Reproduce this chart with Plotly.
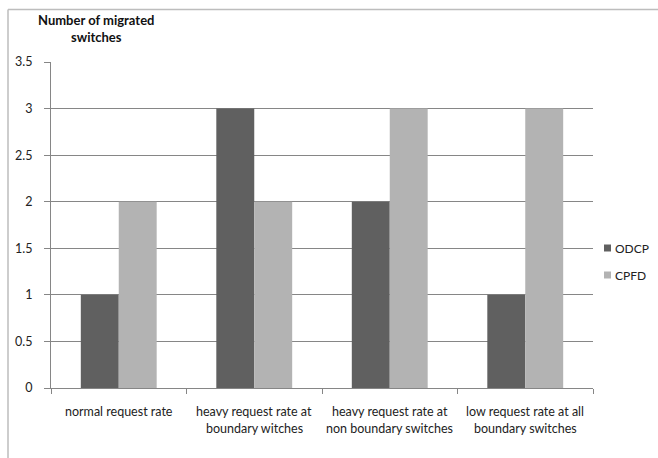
import plotly.graph_objects as go

categories = [
    "normal request rate",
    "heavy request rate at<br>boundary witches",
    "heavy request rate at<br>non boundary switches",
    "low request rate at all<br>boundary switches",
]
odcp = [1, 3, 2, 1]
cpfd = [2, 2, 3, 3]
y_ticks = [0, 0.5, 1, 1.5, 2, 2.5, 3, 3.5]
series_names = ["ODCP", "CPFD"]

W, H = 658, 458
L, R, T, B = 51, 65, 62, 70
pw, ph = W - L - R, H - T - B

dark = "#606060"
light = "#b3b3b3"
axis_col = "#868686"
text_col = "#222222"
font_family = "Lato, Liberation Sans, Arial, sans-serif"


def px_x(x):
    return (x - L) / pw


def px_y(y):
    return 1 - (y - T) / ph


fig = go.Figure()
fig.add_trace(go.Bar(x=categories, y=odcp, name=series_names[0],
                     marker=dict(color=dark, line=dict(width=0))))
fig.add_trace(go.Bar(x=categories, y=cpfd, name=series_names[1],
                     marker=dict(color=light, line=dict(width=0))))

annotations = [
    dict(text="<b>Number of migrated<br>switches</b>", xref="paper", yref="paper",
         x=px_x(96), y=px_y(29), xanchor="center", yanchor="middle",
         showarrow=False, align="center", font=dict(size=13, color="#111111")),
]

# category labels, two lines each, under the axis
for cat in categories:
    lines = cat.split("<br>")
    for i, line in enumerate(lines):
        annotations.append(dict(text=line, x=cat, xref="x", yref="paper",
                                y=px_y(411 + 17.5 * i), xanchor="center", yanchor="middle",
                                showarrow=False, font=dict(size=12.5, color=text_col)))

# legend: small square swatches with names
shapes = []
for i, (name, col) in enumerate(zip(series_names, [dark, light])):
    yc = 248 + 27 * i
    shapes.append(dict(type="rect", xref="paper", yref="paper",
                       x0=px_x(604), x1=px_x(611), y0=px_y(yc + 3.5), y1=px_y(yc - 3.5),
                       fillcolor=col, line=dict(width=0)))
    annotations.append(dict(text=name, xref="paper", yref="paper", x=px_x(613),
                            y=px_y(yc), xanchor="left", yanchor="middle", showarrow=False,
                            font=dict(size=12, color=text_col)))

# chart frame (top and left edges)
shapes += [
    dict(type="line", xref="paper", yref="paper",
         x0=px_x(8), x1=px_x(W + 5), y0=px_y(9.5), y1=px_y(9.5),
         line=dict(color="#bdbdbd", width=1.5)),
    dict(type="line", xref="paper", yref="paper",
         x0=px_x(8), x1=px_x(8), y0=px_y(9.5), y1=px_y(H + 5),
         line=dict(color="#bdbdbd", width=1.5)),
]

fig.update_layout(
    width=W, height=H,
    margin=dict(l=L, r=R, t=T, b=B, autoexpand=False),
    paper_bgcolor="white", plot_bgcolor="white",
    barmode="group", bargap=0.44, bargroupgap=0,
    font=dict(family=font_family, size=10, color=text_col),
    showlegend=False,
    xaxis=dict(
        tickson="boundaries", ticks="outside", ticklen=5, tickcolor=axis_col,
        showline=True, linecolor=axis_col, linewidth=1, showgrid=False,
        showticklabels=False, fixedrange=True,
    ),
    yaxis=dict(
        range=[0, 3.5], tickvals=y_ticks, ticktext=[f"{v:g}" for v in y_ticks],
        ticks="outside", ticklen=6, tickcolor=axis_col,
        showline=True, linecolor=axis_col, linewidth=1,
        showgrid=True, gridcolor=axis_col, gridwidth=1,
        zeroline=False, tickfont=dict(size=12.5), ticklabelstandoff=9,
    ),
    shapes=shapes,
    annotations=annotations,
)

fig.write_html("out.html")
